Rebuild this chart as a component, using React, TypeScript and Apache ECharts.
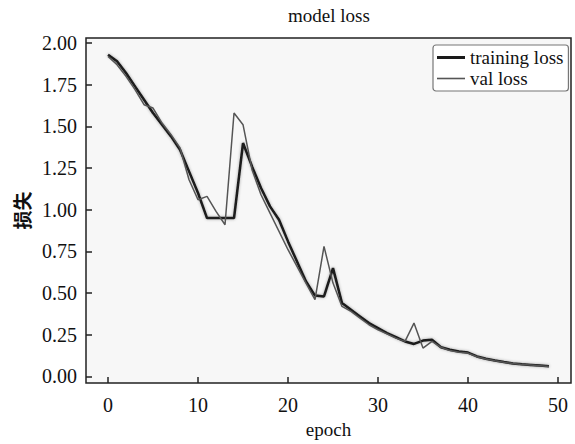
import React, { useEffect, useRef } from "react";
import * as echarts from "echarts";

const epochs = Array.from({ length: 50 }, (_, i) => i);

const trainingLoss = [
  1.93, 1.89, 1.82, 1.74, 1.66, 1.58, 1.51, 1.44, 1.36, 1.23,
  1.10, 0.95, 0.95, 0.95, 0.95, 1.40, 1.26, 1.13, 1.02, 0.94,
  0.81, 0.69, 0.57, 0.485, 0.48, 0.65, 0.44, 0.40, 0.36, 0.32,
  0.29, 0.26, 0.235, 0.21, 0.195, 0.215, 0.22, 0.175, 0.16, 0.15,
  0.143, 0.12, 0.106, 0.095, 0.086, 0.078, 0.073, 0.069, 0.065, 0.061,
];

const valLoss = [
  1.92, 1.87, 1.80, 1.72, 1.63, 1.61, 1.52, 1.45, 1.37, 1.18,
  1.06, 1.08, 0.99, 0.91, 1.58, 1.51, 1.24, 1.09, 0.98, 0.87,
  0.76, 0.66, 0.56, 0.46, 0.78, 0.56, 0.42, 0.39, 0.35, 0.31,
  0.28, 0.255, 0.23, 0.21, 0.32, 0.17, 0.21, 0.175, 0.155, 0.145,
  0.14, 0.118, 0.104, 0.094, 0.085, 0.077, 0.072, 0.068, 0.064, 0.06,
];

const xTicks = [0, 10, 20, 30, 40, 50];
const yTicks = [0, 0.25, 0.5, 0.75, 1.0, 1.25, 1.5, 1.75, 2.0];

const SERIF = "'Liberation Serif', 'DejaVu Serif', serif";

export default function App() {
  const ref = useRef<HTMLDivElement>(null);

  useEffect(() => {
    if (!ref.current) return;
    const chart = echarts.init(ref.current, undefined, { renderer: "svg" });
    const option: any = {
      animation: false,
      backgroundColor: "#ffffff",
      title: {
        text: "model loss",
        left: 329,
        top: 6,
        textAlign: "center",
        padding: 0,
        textStyle: {
          fontFamily: SERIF,
          fontSize: 19,
          fontWeight: "normal",
          color: "#111",
        },
      },
      legend: {
        orient: "vertical",
        left: 433,
        top: 45,
        padding: [3, 5, 3, 4],
        itemGap: 2,
        itemWidth: 28,
        itemHeight: 14,
        symbolKeepAspect: true,
        borderColor: "#777",
        borderWidth: 1.2,
        borderRadius: 3,
        backgroundColor: "#ffffff",
        textStyle: {
          fontFamily: SERIF,
          fontSize: 19,
          color: "#111",
          lineHeight: 19,
        },
        data: [
          {
            name: "training loss",
            icon: "path://M0,0H28V3H0Z",
            itemStyle: { color: "#1a1a1a" },
          },
          {
            name: "val loss",
            icon: "path://M0,0H28V1.6H0Z",
            itemStyle: { color: "#555" },
          },
        ],
      },
      grid: {
        left: 86,
        top: 38,
        right: 4,
        bottom: 48,
        show: true,
        backgroundColor: "#f7f7f7",
        borderColor: "#222",
        borderWidth: 1.5,
      },
      xAxis: {
        type: "value",
        min: -2.45,
        max: 51.45,
        name: "epoch",
        nameLocation: "middle",
        nameGap: 29,
        nameTextStyle: { fontFamily: SERIF, fontSize: 19, color: "#111" },
        axisLine: { show: false, onZero: false },
        splitLine: { show: false },
        axisTick: {
          show: true,
          inside: true,
          length: 6,
          customValues: xTicks,
          lineStyle: { color: "#222", width: 1.5 },
        },
        axisLabel: {
          customValues: xTicks,
          margin: 12,
          fontFamily: SERIF,
          fontSize: 20,
          color: "#111",
        },
      },
      yAxis: {
        type: "value",
        min: -0.04,
        max: 2.03,
        name: "损失",
        nameLocation: "middle",
        nameRotate: 90,
        nameGap: 52,
        nameTextStyle: {
          fontFamily: "'Noto Sans CJK SC', sans-serif",
          fontSize: 19,
          fontWeight: "bold",
          color: "#111",
        },
        axisLine: { show: false, onZero: false },
        splitLine: { show: false },
        axisTick: {
          show: true,
          inside: true,
          length: 6,
          customValues: yTicks,
          lineStyle: { color: "#222", width: 1.5 },
        },
        axisLabel: {
          customValues: yTicks,
          margin: 9,
          fontFamily: SERIF,
          fontSize: 20,
          color: "#111",
          formatter: (v: number) => v.toFixed(2),
        },
      },
      series: [
        {
          name: "training loss",
          type: "line",
          symbol: "none",
          data: epochs.map((e, i) => [e, trainingLoss[i]]),
          lineStyle: {
            color: "#1a1a1a",
            width: 2.5,
            shadowColor: "rgba(0,0,0,0.35)",
            shadowBlur: 3,
          },
          itemStyle: { color: "#1a1a1a" },
        },
        {
          name: "val loss",
          type: "line",
          symbol: "none",
          data: epochs.map((e, i) => [e, valLoss[i]]),
          lineStyle: { color: "#555", width: 1.5 },
          itemStyle: { color: "#555" },
        },
      ],
    };
    chart.setOption(option);
    return () => chart.dispose();
  }, []);

  return (
    <div
      ref={ref}
      style={{ position: "absolute", left: 0, top: 0, width: 575, height: 444 }}
    />
  );
}
